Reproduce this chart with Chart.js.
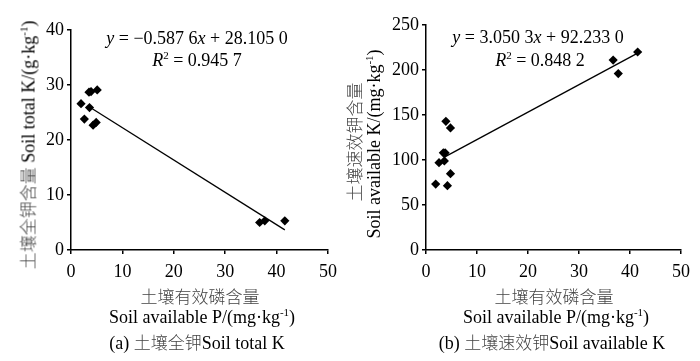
<!DOCTYPE html>
<html>
<head>
<meta charset="utf-8">
<script src="https://cdn.jsdelivr.net/npm/chart.js@4/dist/chart.umd.min.js"></script>
<style>
  body { margin: 0; background: #fff; }
  #wrap { position: relative; width: 700px; height: 361px; overflow: hidden; }
  canvas { position: absolute; top: 0; }
  .t { position: absolute; white-space: nowrap; font-family: "Liberation Serif", "Times New Roman", serif;
       font-size: 18px; color: #000; transform: translate(-50%, -50%); line-height: 1; }
  .zh { font-family: "Noto Sans CJK SC", sans-serif; font-weight: 300; color: #444; font-size: 17px; }
  .rot { transform: translate(-50%, -50%) rotate(-90deg); }
  i { font-style: italic; }
  sup { font-size: 11px; vertical-align: 7px; line-height: 0; }
</style>
</head>
<body>
<div id="wrap">
  <canvas id="chartA" width="350" height="361" style="left:0"></canvas>
  <canvas id="chartB" width="350" height="361" style="left:350px"></canvas>

  <!-- panel a texts -->
  <div class="t" style="left:197px;top:38px"><i>y</i> = −0.587 6<i>x</i> + 28.105 0</div>
  <div class="t" style="left:197px;top:60px"><i>R</i><sup>2</sup> = 0.945 7</div>
  <div class="t rot" style="left:28px;top:145px"><span class="zh">土壤全钾含量</span> Soil total K/(g·kg<sup>-1</sup>)</div>
  <div class="t zh" style="left:200px;top:295px">土壤有效磷含量</div>
  <div class="t" style="left:202px;top:317px">Soil available P/(mg·kg<sup>-1</sup>)</div>
  <div class="t" style="left:197px;top:342px">(a) <span class="zh">土壤全钾</span>Soil total K</div>

  <!-- panel b texts -->
  <div class="t" style="left:538px;top:37px"><i>y</i> = 3.050 3<i>x</i> + 92.233 0</div>
  <div class="t" style="left:540px;top:60px"><i>R</i><sup>2</sup> = 0.848 2</div>
  <div class="t rot zh" style="left:353px;top:142px">土壤速效钾含量</div>
  <div class="t rot" style="left:374px;top:144px">Soil available K/(mg·kg<sup>-1</sup>)</div>
  <div class="t zh" style="left:554px;top:295px">土壤有效磷含量</div>
  <div class="t" style="left:556px;top:317px">Soil available P/(mg·kg<sup>-1</sup>)</div>
  <div class="t" style="left:552px;top:342px">(b) <span class="zh">土壤速效钾</span>Soil available K</div>
</div>

<script>
// soil available P (x) and the two K contents (y)
const availPA = [1.95, 2.6, 3.5, 3.9, 5.1, 3.6, 4.3, 4.9, 36.7, 37.7, 41.6];
const totalK  = [26.6, 23.8, 28.7, 28.8, 29.1, 25.9, 22.7, 23.2, 5.0, 5.3, 5.3];

const availPB = [1.9, 2.55, 3.6, 3.4, 3.75, 3.9, 4.8, 4.2, 4.8, 36.7, 37.7, 41.5];
const availK  = [73.3, 97, 99, 108, 108, 143, 135.6, 71.5, 84.8, 211, 196, 220];

// regression lines (slope, intercept) and x range they cover
const fitA = { slope: -0.5876, intercept: 28.105, from: 3.6, to: 41.6 };
const fitB = { slope: 3.0503, intercept: 92.233, from: 3.6, to: 41.5 };

const xTicksMax = 50;

function makePanel(canvasId, xs, ys, fit, yMax, yStep, area) {
  const points = xs.map((x, i) => ({ x: x, y: ys[i] }));
  const line = [fit.from, fit.to].map(x => ({ x: x, y: fit.slope * x + fit.intercept }));

  const axisGrid = {
    display: true,
    drawOnChartArea: false,
    drawTicks: true,
    tickLength: 4,
    color: "#000",
    lineWidth: 1.5
  };
  const tickFont = { family: "'Liberation Serif', serif", size: 18 };

  return new Chart(document.getElementById(canvasId), {
    type: "scatter",
    data: {
      datasets: [
        {
          data: points,
          pointStyle: "rectRot",
          pointRadius: 4.6,
          backgroundColor: "#000",
          borderWidth: 0
        },
        {
          type: "line",
          data: line,
          borderColor: "#000",
          borderWidth: 1.3,
          pointRadius: 0,
          fill: false
        }
      ]
    },
    options: {
      responsive: false,
      animation: false,
      layout: { padding: { left: 0, top: area.top, right: area.right, bottom: 0 } },
      plugins: { legend: { display: false }, tooltip: { enabled: false } },
      scales: {
        x: {
          type: "linear",
          min: 0, max: xTicksMax,
          ticks: { stepSize: 10, color: "#000", font: tickFont, padding: 7, maxRotation: 0 },
          grid: axisGrid,
          border: { color: "#000", width: 1.5 },
          afterFit(scale) { scale.height = 361 - area.bottom; }
        },
        y: {
          min: 0, max: yMax,
          ticks: { stepSize: yStep, color: "#000", font: tickFont, padding: 3 },
          grid: axisGrid,
          border: { color: "#000", width: 1.5 },
          afterFit(scale) { scale.width = area.left; }
        }
      }
    }
  });
}

makePanel("chartA", availPA, totalK, fitA, 40, 10, { left: 71, right: 22, top: 30, bottom: 250 });
makePanel("chartB", availPB, availK, fitB, 250, 50, { left: 76, right: 19, top: 25, bottom: 250 });
</script>
</body>
</html>
